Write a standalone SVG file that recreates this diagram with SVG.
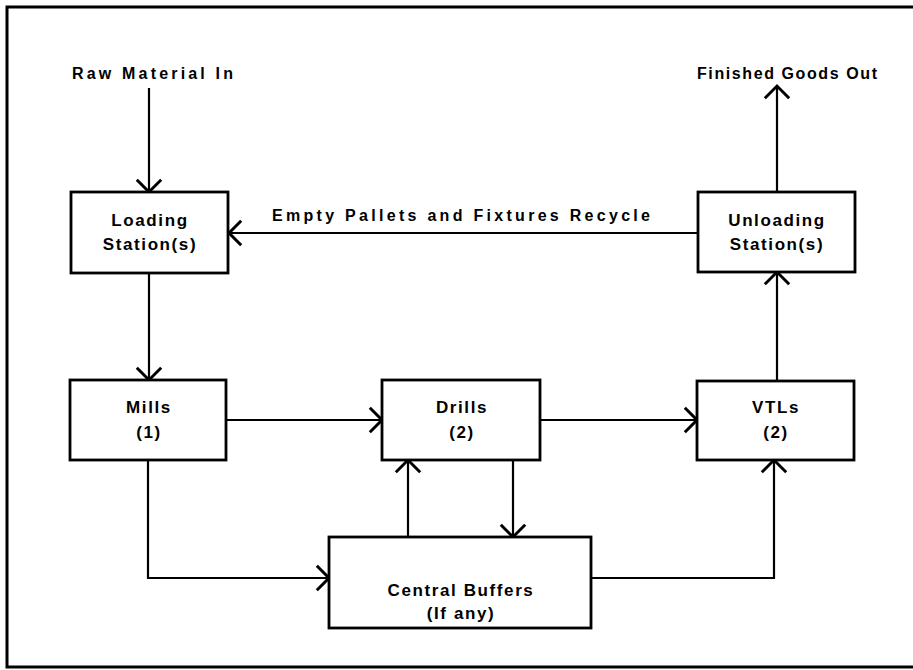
<svg xmlns="http://www.w3.org/2000/svg" width="913" height="670" viewBox="0 0 913 670">
<style>
.box{fill:#fff;stroke:#000;stroke-width:2.8}
.lbl{font-family:"Liberation Sans",Arial,sans-serif;font-weight:bold;font-size:17px;letter-spacing:1.6px;text-anchor:middle;fill:#000}
.ext{font-family:"Liberation Sans",Arial,sans-serif;font-weight:bold;font-size:16px;fill:#000}
.con{fill:none;stroke:#000;stroke-width:2.2}
</style>
<defs>
<marker id="arr" markerUnits="userSpaceOnUse" markerWidth="30" markerHeight="30" viewBox="-16 -16 32 32" refX="0" refY="0" orient="auto">
<path d="M-13,-13 L0,0 L-13,13" fill="none" stroke="#000" stroke-width="3.2"/>
</marker>
</defs>
<rect width="913" height="670" fill="#fff"/>
<path d="M915,7 L7,7 L7,667 L915,667" fill="none" stroke="#000" stroke-width="3"/>
<g id="connectors">
<path class="con" d="M149,88 L149,192" marker-end="url(#arr)"/>
<path class="con" d="M777,192 L777,86" marker-end="url(#arr)"/>
<path class="con" d="M698,233 L229,233" marker-end="url(#arr)"/>
<path class="con" d="M149,273 L149,380" marker-end="url(#arr)"/>
<path class="con" d="M226,420 L382,420" marker-end="url(#arr)"/>
<path class="con" d="M540,420 L697,420" marker-end="url(#arr)"/>
<path class="con" d="M148,460 L148,578 L329,578" marker-end="url(#arr)"/>
<path class="con" d="M408,537 L408,460" marker-end="url(#arr)"/>
<path class="con" d="M513,460 L513,537" marker-end="url(#arr)"/>
<path class="con" d="M591,578 L774,578 L774,460" marker-end="url(#arr)"/>
<path class="con" d="M777,460 L777,272" marker-end="url(#arr)"/>
</g>
<g id="raw-in"><text class="ext" x="72" y="79" textLength="161" lengthAdjust="spacing">Raw Material In</text></g>
<g id="goods-out"><text class="ext" x="697" y="79" textLength="180" lengthAdjust="spacing">Finished Goods Out</text></g>
<g id="recycle-label"><text class="ext" x="272" y="221" textLength="378" lengthAdjust="spacing">Empty Pallets and Fixtures Recycle</text></g>
<g id="loading">
<rect class="box" x="71" y="192" width="157" height="81"/>
<text class="lbl" x="150" y="226">Loading</text>
<text class="lbl" x="150" y="250">Station(s)</text>
</g>
<g id="unloading">
<rect class="box" x="698" y="192" width="157" height="80"/>
<text class="lbl" x="777" y="226">Unloading</text>
<text class="lbl" x="777" y="250">Station(s)</text>
</g>
<g id="mills">
<rect class="box" x="70" y="380" width="156" height="80"/>
<text class="lbl" x="149" y="413">Mills</text>
<text class="lbl" x="149" y="438">(1)</text>
</g>
<g id="drills">
<rect class="box" x="382" y="380" width="158" height="80"/>
<text class="lbl" x="462" y="413">Drills</text>
<text class="lbl" x="462" y="438">(2)</text>
</g>
<g id="vtls">
<rect class="box" x="697" y="381" width="157" height="79"/>
<text class="lbl" x="776" y="413">VTLs</text>
<text class="lbl" x="776" y="438">(2)</text>
</g>
<g id="central-buffers">
<rect class="box" x="329" y="537" width="262" height="91"/>
<text class="lbl" x="461" y="596">Central Buffers</text>
<text class="lbl" x="461" y="619">(If any)</text>
</g>
</svg>
